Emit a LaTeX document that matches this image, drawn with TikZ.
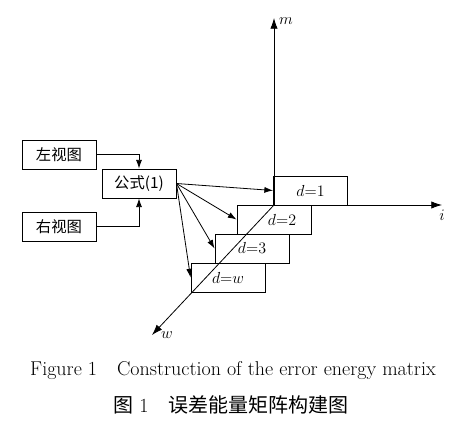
\documentclass[tikz,border=0pt]{standalone}
\usepackage{fontspec}
\newfontfamily\cjk{Noto Sans CJK SC}
\usetikzlibrary{arrows.meta}
\tikzset{%
  kuang/.style={draw, line width=0.7pt, minimum width=55.5pt, minimum height=21.75pt, inner sep=0pt, font=\cjk\fontsize{11.5}{13}\selectfont},
  ceng/.style={kuang, font=\fontsize{12}{14}\selectfont},
  line/.style={draw, line width=0.6pt, -{Latex[length=6.5pt,width=4.5pt]}},
  zhou/.style={line, -{Latex[length=8pt,width=5.5pt]}},
  biao/.style={font=\fontsize{11.5}{13}\selectfont, inner sep=0pt},
}
\begin{document}
\begin{tikzpicture}[x=0.75pt, y=-0.75pt]
\useasboundingbox (0,0) rectangle (471,421);
% input views and formula
\node[kuang] (zuo) at (59,154.5) {左视图};
\node[kuang] (gs) at (139,183.5) {公式(1)};
\node[kuang] (you) at (59,226.5) {右视图};
% layers
\node[ceng] (d1) at (310.5,190.5) {$d$=1};
\node[ceng] (d2) at (274,219.5) {\hspace{12pt}$d$=2};
\node[ceng] (d3) at (252,248.5) {$d$=3};
\node[ceng] (dw) at (228,277.5) {$d$=$w$};
% axes
\coordinate (O) at (274,205);
\coordinate (m) at (274,18);
\coordinate (i) at (442,205);
\coordinate (w) at (152,335);
\draw[zhou] (O) -- (m);
\draw[zhou] (O) -- (i);
\draw[zhou] (O) -- (w);
\node[biao] (ml) at (286,21) {$m$};
\node[biao] (il) at (442,215) {$i$};
\node[biao] (wl) at (167,335) {$w$};
\draw[line] (zuo.east) -| (gs.north);
\draw[line] (you.east) -| (gs.south);
\foreach \d in {d1,d2,d3,dw}
  \draw[line] (gs.east) -- (\d.west);
% captions
\node[font=\fontsize{15}{17}\selectfont] (cap) at (233,371) {Figure 1\quad Construction of the error energy matrix};
\node[font=\fontsize{15}{17}\selectfont] (capzh) at (231,405) {{\cjk 图} 1\quad {\cjk 误差能量矩阵构建图}};
\end{tikzpicture}
\end{document}
